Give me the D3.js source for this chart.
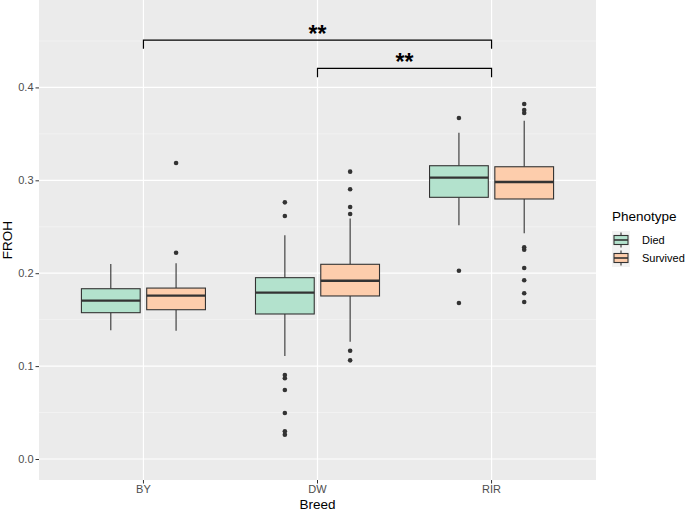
<!DOCTYPE html>
<html>
<head>
<meta charset="utf-8">
<script src="https://cdn.jsdelivr.net/npm/d3@7"></script>
<style>
  html, body { margin: 0; padding: 0; background: #ffffff; }
  svg { display: block; font-family: "Liberation Sans", Arial, sans-serif; }
</style>
</head>
<body>
<svg id="chart" width="685" height="512"></svg>
<script>
// ---- data ----
const breeds = ["BY", "DW", "RIR"];
const phenotypes = ["Died", "Survived"];
const phenoColors = ["#b3e2cd", "#fdcdac"];
const yTicks = [0.0, 0.1, 0.2, 0.3, 0.4];
const yTickLabels = ["0.0", "0.1", "0.2", "0.3", "0.4"];

// box statistics: [breed, phenotype, whiskerLow, q1, median, q3, whiskerHigh]
const boxBreed     = ["BY", "BY", "DW", "DW", "RIR", "RIR"];
const boxPheno     = ["Died", "Survived", "Died", "Survived", "Died", "Survived"];
const whiskerLow   = [0.1385, 0.1381, 0.1109, 0.1263, 0.2516, 0.2430];
const q1           = [0.1575, 0.1607, 0.1561, 0.1755, 0.2817, 0.2799];
const median       = [0.1704, 0.1758, 0.1790, 0.1919, 0.3028, 0.2982];
const q3           = [0.1833, 0.1840, 0.1952, 0.2096, 0.3157, 0.3146];
const whiskerHigh  = [0.2099, 0.2106, 0.2408, 0.2590, 0.3513, 0.3642];
const outliers = [
  [],
  [0.222, 0.3186],
  [0.2763, 0.2616, 0.0904, 0.0870, 0.0743, 0.0495, 0.0298, 0.0262],
  [0.3093, 0.2903, 0.2713, 0.2637, 0.1166, 0.1062],
  [0.3671, 0.2027, 0.1679],
  [0.3821, 0.3757, 0.3725, 0.2279, 0.2252, 0.2056, 0.1924, 0.1784, 0.1690]
];

// significance brackets
const sigFrom  = ["BY", "DW"];
const sigTo    = ["RIR", "RIR"];
const sigY     = [0.451, 0.4205];
const sigLabel = ["**", "**"];

// ---- layout ----
const svg = d3.select("#chart");
const panel = { left: 39, right: 596, top: 0, bottom: 480 };

const x = d3.scaleBand().domain(breeds)
  .range([panel.left, panel.right]).paddingInner(0).paddingOuter(0.1);
const bw = x.bandwidth();
const xSub = d3.scaleBand().domain(phenotypes)
  .range([-0.375 * bw, 0.375 * bw]).padding(0);
const boxW = xSub.bandwidth() * 0.9;
const color = d3.scaleOrdinal().domain(phenotypes).range(phenoColors);

const y = d3.scaleLinear().domain([-0.0226, 0.4941]).range([panel.bottom, panel.top]);

// panel background
svg.append("rect")
  .attr("x", panel.left).attr("y", panel.top)
  .attr("width", panel.right - panel.left).attr("height", panel.bottom - panel.top)
  .attr("fill", "#ebebeb");

// minor grid
const minor = d3.range(0.05, 0.5, 0.1).filter(v => y(v) >= panel.top);
svg.append("g").selectAll("line").data(minor).join("line")
  .attr("x1", panel.left).attr("x2", panel.right)
  .attr("y1", d => y(d)).attr("y2", d => y(d))
  .attr("stroke", "#f7f7f7").attr("stroke-width", 0.6);

// major grid
svg.append("g").selectAll("line").data(yTicks).join("line")
  .attr("x1", panel.left).attr("x2", panel.right)
  .attr("y1", d => y(d)).attr("y2", d => y(d))
  .attr("stroke", "#ffffff").attr("stroke-width", 1.2);
svg.append("g").selectAll("line").data(breeds).join("line")
  .attr("x1", d => x(d) + bw / 2).attr("x2", d => x(d) + bw / 2)
  .attr("y1", panel.top).attr("y2", panel.bottom)
  .attr("stroke", "#ffffff").attr("stroke-width", 1.2);

// axes
const yAxis = d3.axisLeft(y).tickValues(yTicks)
  .tickFormat((d, i) => yTickLabels[i]).tickSize(3.5).tickPadding(2);
const gy = svg.append("g").attr("transform", `translate(${panel.left},0)`).call(yAxis);
gy.select(".domain").remove();
gy.selectAll(".tick line").attr("stroke", "#333333").attr("stroke-width", 1);
gy.selectAll(".tick text").attr("fill", "#4d4d4d")
  .style("font-size", "11px").style("font-family", "Liberation Sans, Arial, sans-serif");

const xAxis = d3.axisBottom(x).tickSize(3.5).tickPadding(2);
const gx = svg.append("g").attr("transform", `translate(0,${panel.bottom})`).call(xAxis);
gx.select(".domain").remove();
gx.selectAll(".tick line").attr("stroke", "#333333").attr("stroke-width", 1);
gx.selectAll(".tick text").attr("fill", "#4d4d4d")
  .style("font-size", "11px").style("font-family", "Liberation Sans, Arial, sans-serif");

// axis titles
svg.append("text").attr("x", (panel.left + panel.right) / 2).attr("y", 509)
  .attr("text-anchor", "middle").attr("fill", "#000")
  .style("font-size", "13.5px").text("Breed");
svg.append("text")
  .attr("transform", `translate(12,${(panel.top + panel.bottom) / 2}) rotate(-90)`)
  .attr("text-anchor", "middle").attr("fill", "#000")
  .style("font-size", "13.5px").text("FROH");

// boxes
const boxes = boxBreed.map((b, i) => ({
  breed: b, pheno: boxPheno[i],
  lo: whiskerLow[i], q1: q1[i], med: median[i], q3: q3[i], hi: whiskerHigh[i],
  out: outliers[i]
}));
const bg = svg.append("g").selectAll("g").data(boxes).join("g")
  .attr("transform", d => `translate(${x(d.breed) + bw / 2 + xSub(d.pheno) + xSub.bandwidth() / 2},0)`);

bg.append("line").attr("x1", 0).attr("x2", 0)
  .attr("y1", d => y(d.hi)).attr("y2", d => y(d.q3))
  .attr("stroke", "#333333").attr("stroke-width", 1.1);
bg.append("line").attr("x1", 0).attr("x2", 0)
  .attr("y1", d => y(d.q1)).attr("y2", d => y(d.lo))
  .attr("stroke", "#333333").attr("stroke-width", 1.1);
bg.append("rect")
  .attr("x", -boxW / 2).attr("width", boxW)
  .attr("y", d => y(d.q3)).attr("height", d => y(d.q1) - y(d.q3))
  .attr("fill", d => color(d.pheno))
  .attr("stroke", "#333333").attr("stroke-width", 1.1);
bg.append("line").attr("x1", -boxW / 2).attr("x2", boxW / 2)
  .attr("y1", d => y(d.med)).attr("y2", d => y(d.med))
  .attr("stroke", "#333333").attr("stroke-width", 2.3);
bg.selectAll("circle").data(d => d.out).join("circle")
  .attr("cx", 0).attr("cy", d => y(d)).attr("r", 2.3)
  .attr("fill", "#333333");

// significance brackets
const sig = sigFrom.map((f, i) => ({ from: f, to: sigTo[i], yv: sigY[i], label: sigLabel[i] }));
const tip = 0.0095;
const sg = svg.append("g").selectAll("g").data(sig).join("g");
sg.append("path")
  .attr("d", d => {
    const x1 = x(d.from) + bw / 2, x2 = x(d.to) + bw / 2;
    return `M${x1},${y(d.yv - tip)}V${y(d.yv)}H${x2}V${y(d.yv - tip)}`;
  })
  .attr("fill", "none").attr("stroke", "#000").attr("stroke-width", 1.2);
sg.append("text")
  .attr("x", d => (x(d.from) + x(d.to)) / 2 + bw / 2)
  .attr("y", d => y(d.yv) + 2)
  .attr("text-anchor", "middle").attr("fill", "#000")
  .style("font-size", "23px").style("font-weight", "bold")
  .text(d => d.label);

// legend
const lg = svg.append("g").attr("transform", "translate(612,0)");
lg.append("text").attr("x", 0).attr("y", 221).attr("fill", "#000")
  .style("font-size", "13.5px").text("Phenotype");
const keySize = 18;
const items = lg.selectAll("g.item").data(phenotypes).join("g")
  .attr("class", "item")
  .attr("transform", (d, i) => `translate(0,${231 + i * keySize})`);
items.append("rect").attr("width", keySize).attr("height", keySize).attr("fill", "#f2f2f2");
items.append("line").attr("x1", keySize / 2).attr("x2", keySize / 2)
  .attr("y1", 1.5).attr("y2", keySize - 1.5).attr("stroke", "#333333").attr("stroke-width", 1.1);
items.append("rect").attr("x", 2).attr("y", 4.5).attr("width", keySize - 4).attr("height", keySize - 9)
  .attr("fill", d => color(d)).attr("stroke", "#333333").attr("stroke-width", 1.1);
items.append("line").attr("x1", 2).attr("x2", keySize - 2)
  .attr("y1", keySize / 2).attr("y2", keySize / 2).attr("stroke", "#333333").attr("stroke-width", 1.6);
items.append("text").attr("x", keySize + 12).attr("y", keySize / 2 + 4)
  .attr("fill", "#000").style("font-size", "11px").text(d => d);
</script>
</body>
</html>
